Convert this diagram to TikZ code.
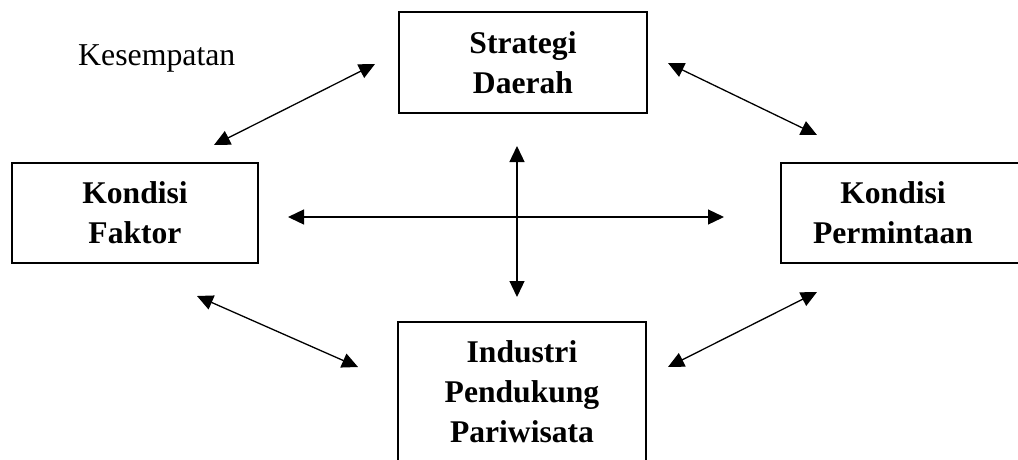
\documentclass[tikz,border=0pt]{standalone}
\usepackage{fontspec}
\setmainfont{Liberation Serif}
\usetikzlibrary{arrows.meta}
\tikzset{
  boxnode/.style={draw, line width=2.6pt, rectangle, inner sep=0pt, align=center,
    font=\fontsize{31.6}{40}\selectfont\bfseries},
  boldtext/.style={inner sep=0pt, align=center, font=\fontsize{31.6}{40}\selectfont\bfseries},
  link/.style={line width=1.3pt, {Triangle[length=16pt,width=15pt]}-{Triangle[length=16pt,width=15pt]}}
}
\begin{document}
\begin{tikzpicture}[x=1pt,y=-1pt]
\useasboundingbox (0,0) rectangle (1018,459);
% boxes
\node[boxnode, minimum width=248pt, minimum height=101pt] (strat) at (523,62.5) {Strategi\\Daerah};
\node[boxnode, minimum width=246pt, minimum height=100pt] (faktor) at (135,213) {Kondisi\\Faktor};
\node[boxnode, minimum width=248pt, minimum height=140pt] (industri) at (522,392) {Industri\\Pendukung\\Pariwisata};
\node[draw, line width=2.6pt, rectangle, minimum width=250pt, minimum height=100pt] (perm) at (906,213) {};
\node[boldtext] (permtext) at (893,213) {Kondisi\\Permintaan};
% label
\node[anchor=base west, inner sep=0pt, font=\fontsize{31.8}{40}\selectfont] (kes) at (78,65) {Kesempatan};
% arrow end points
\coordinate (a1s) at (214,145); \coordinate (a1e) at (375,64);
\coordinate (a2s) at (668,63);  \coordinate (a2e) at (817,135);
\coordinate (a3s) at (197,296); \coordinate (a3e) at (358,367);
\coordinate (a4s) at (668,367); \coordinate (a4e) at (817,292);
\coordinate (hs) at (288,217);  \coordinate (he) at (724,217);
\coordinate (vs) at (517,146);  \coordinate (ve) at (517,297);
\draw[link] (a1s) -- (a1e);
\draw[link] (a2s) -- (a2e);
\draw[link] (a3s) -- (a3e);
\draw[link] (a4s) -- (a4e);
\draw[link] (hs) -- (he);
\draw[link] (vs) -- (ve);
\end{tikzpicture}
\end{document}
